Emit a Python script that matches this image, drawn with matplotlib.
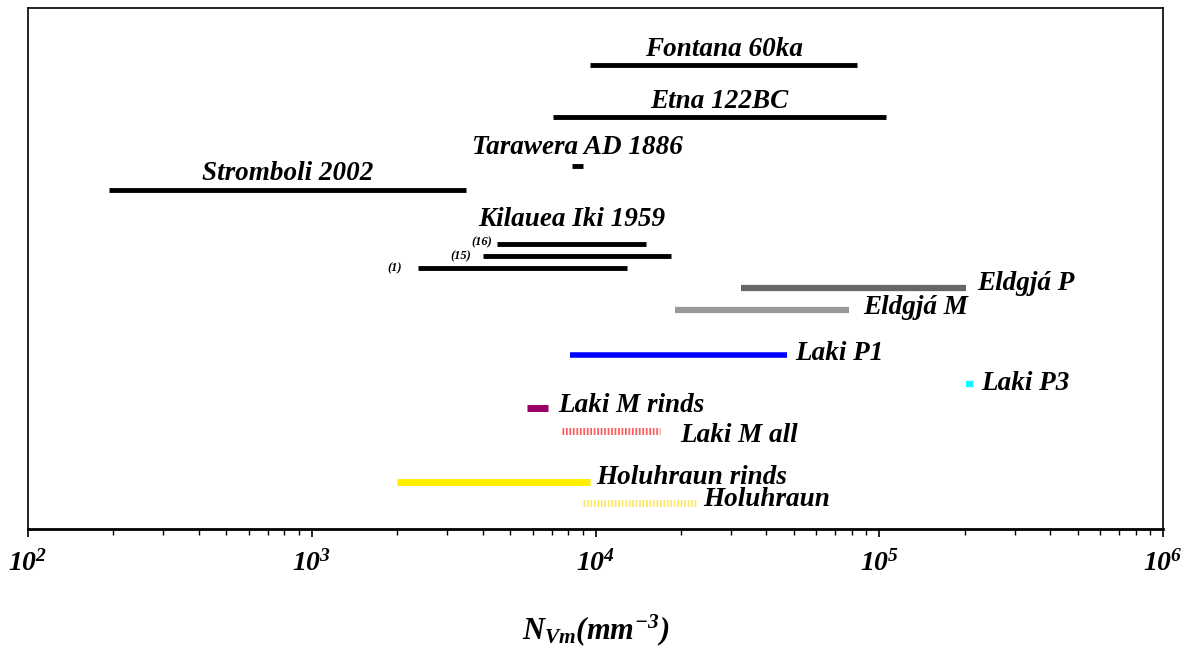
import matplotlib
matplotlib.use('Agg')
import matplotlib.pyplot as plt

plt.rcParams['font.family'] = 'Liberation Serif'
plt.rcParams['font.weight'] = 'bold'
plt.rcParams['font.style'] = 'italic'
plt.rcParams['mathtext.fontset'] = 'custom'
plt.rcParams['mathtext.rm'] = 'Liberation Serif:italic:bold'
plt.rcParams['mathtext.it'] = 'Liberation Serif:italic:bold'
plt.rcParams['mathtext.bf'] = 'Liberation Serif:italic:bold'

# ranges of N_Vm (mm^-3) per sample
names = ['Fontana 60ka', 'Etna 122BC', 'Tarawera AD 1886', 'Stromboli 2002',
         '(16)', '(15)', '(1)',
         'Eldgjá P', 'Eldgjá M', 'Laki P1', 'Laki P3', 'Laki M rinds',
         'Laki M all', 'Holuhraun rinds', 'Holuhraun']
nv_min = [9570, 7080, 8270, 193, 4500, 4010, 2370,
          32600, 19100, 8130, 202000, 5740, 7620, 2000, 9040]
nv_max = [83500, 106000, 9040, 3500, 15100, 18450, 12900,
          202000, 78200, 47300, 214000, 6800, 16900, 9570, 22800]
group_label = 'Kilauea Iki 1959'

# drawing rows (top to bottom) and styles
rows = [65, 117, 166, 190, 244, 256, 268, 288, 310, 355, 384, 408, 431, 482, 503]
colors = ['black'] * 7 + ['#666666', '#999999', '#0000ff', '#00ffff', '#990066',
                          '#ff5c5c', '#ffee00', '#ffe866']
widths = [3.5] * 7 + [4.5, 4.5, 4, 4.5, 5, 5, 5, 5]
styles = ['-'] * 12 + [(0, (0.25, 0.25)), '-', (0, (0.25, 0.25))]
label_pos = ['top'] * 4 + ['left'] * 3 + ['right'] * 8
# label offsets in pixels (x gap, y shift downward)
label_dx = [0, 0, 0, 0, -5, -12, -16, 11, 14, 8, 8, 10, 20, 6, 6]
label_dy = [-15, -15, -18, -16, -2, 0, 0, -5, -2, -2, 0, -2, 4, -4, -3]

fig = plt.figure(figsize=(11.91, 6.48), dpi=100)
ax = fig.add_axes([28 / 1191, 1 - 529 / 648, 1135 / 1191, 521 / 648])

for n, lo, hi, y, c, w, ls, lp, dx, dy in zip(names, nv_min, nv_max, rows, colors, widths,
                                               styles, label_pos, label_dx, label_dy):
    ax.plot([lo, hi], [y, y], color=c, lw=w, ls=ls, solid_capstyle='butt', dash_capstyle='butt')
    if lp == 'top':
        ax.annotate(n, ((lo * hi) ** 0.5, y), xytext=(dx, -dy), textcoords='offset pixels',
                    ha='center', va='center', fontsize=19.5)
    elif lp == 'left':
        ax.annotate(n, (lo, y), xytext=(dx, -dy), textcoords='offset pixels',
                    ha='right', va='center', fontsize=9)
    else:
        ax.annotate(n, (hi, y), xytext=(dx, -dy), textcoords='offset pixels',
                    ha='left', va='center', fontsize=19.5)

# shared title for the three Kilauea Iki samples
ax.text((nv_min[4] * nv_max[4]) ** 0.5, 220, group_label, ha='center', va='center', fontsize=19.5)

ax.set_xscale('log')
ax.set_xlim(1e2, 1e6)
ax.set_ylim(529, 8)
ax.set_yticks([])
ax.tick_params(axis='x', which='major', direction='out', length=6, width=1.2, labelsize=20, pad=9)
ax.tick_params(axis='x', which='minor', direction='out', length=4, width=1)
for s in ax.spines.values():
    s.set_linewidth(1.2)
ax.spines['bottom'].set_linewidth(2)
ax.set_xlabel(r'$N_{Vm}(mm^{-3})$', fontsize=22, labelpad=26)

plt.savefig('out.png', dpi=100)
